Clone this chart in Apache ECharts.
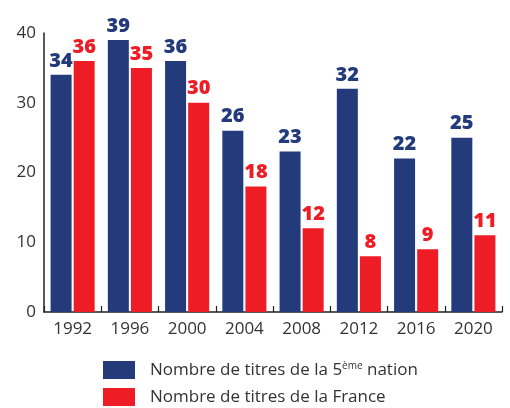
<!DOCTYPE html>
<html><head><meta charset="utf-8">
<script src="https://cdn.jsdelivr.net/npm/echarts@6/dist/echarts.min.js"></script>
<style>html,body{margin:0;padding:0;background:#fff}#c{width:510px;height:408px}</style>
</head><body><div id="c"></div>
<script>
const years = ['1992','1996','2000','2004','2008','2012','2016','2020'];
const fifthNation = [34,39,36,26,23,32,22,25];
const france = [36,35,30,18,12,8,9,11];
const yTicks = [0,10,20,30,40];
const seriesNames = ['Nombre de titres de la 5ème nation','Nombre de titres de la France'];
const BLUE = '#233a7b', RED = '#ee1c25';
const FONT = 'Open Sans';
const chart = echarts.init(document.getElementById('c'));
chart.setOption({
  animation:false,
  textStyle:{fontFamily:FONT},
  grid:{left:44,right:8,top:33,bottom:96,containLabel:false},
  legend:{
    orient:'vertical', left:103, top:361, padding:0, itemWidth:32, itemHeight:18, itemGap:9,
    icon:'rect',
    data:seriesNames,
    formatter:function(n){
      if(n.indexOf('5ème')>=0) return '{a|Nombre de titres de la 5}{s|ème}{a| nation}';
      return '{a|'+n+'}';
    },
    textStyle:{fontFamily:FONT,color:'#333',padding:[0,0,0,10],
      rich:{a:{fontSize:17,fontFamily:FONT,color:'#333'},s:{fontSize:10,fontFamily:FONT,color:'#333',verticalAlign:'top',padding:[0,0,8,0]}}}
  },
  xAxis:{type:'category',data:years,
    axisLine:{lineStyle:{color:'#222',width:1.5}},
    axisTick:{show:true,inside:true,length:6,lineStyle:{color:'#222',width:1.2}},
    axisLabel:{fontSize:17,color:'#333',fontFamily:FONT,margin:9}},
  yAxis:{type:'value',min:yTicks[0],max:yTicks[yTicks.length-1],interval:10,
    axisLine:{show:true,lineStyle:{color:'#222',width:1.5}},
    axisTick:{show:false},splitLine:{show:false},
    axisLabel:{fontSize:17,color:'#333',fontFamily:FONT,margin:8}},
  series:[
    {name:seriesNames[0],type:'bar',data:fifthNation,itemStyle:{color:BLUE},
     barGap:'10%',barCategoryGap:'23%',
     label:{show:true,position:'top',distance:4,color:BLUE,fontSize:20,fontWeight:800,fontFamily:FONT}},
    {name:seriesNames[1],type:'bar',data:france,itemStyle:{color:RED},
     label:{show:true,position:'top',distance:4,color:RED,fontSize:20,fontWeight:800,fontFamily:FONT}}
  ]
});
</script></body></html>
